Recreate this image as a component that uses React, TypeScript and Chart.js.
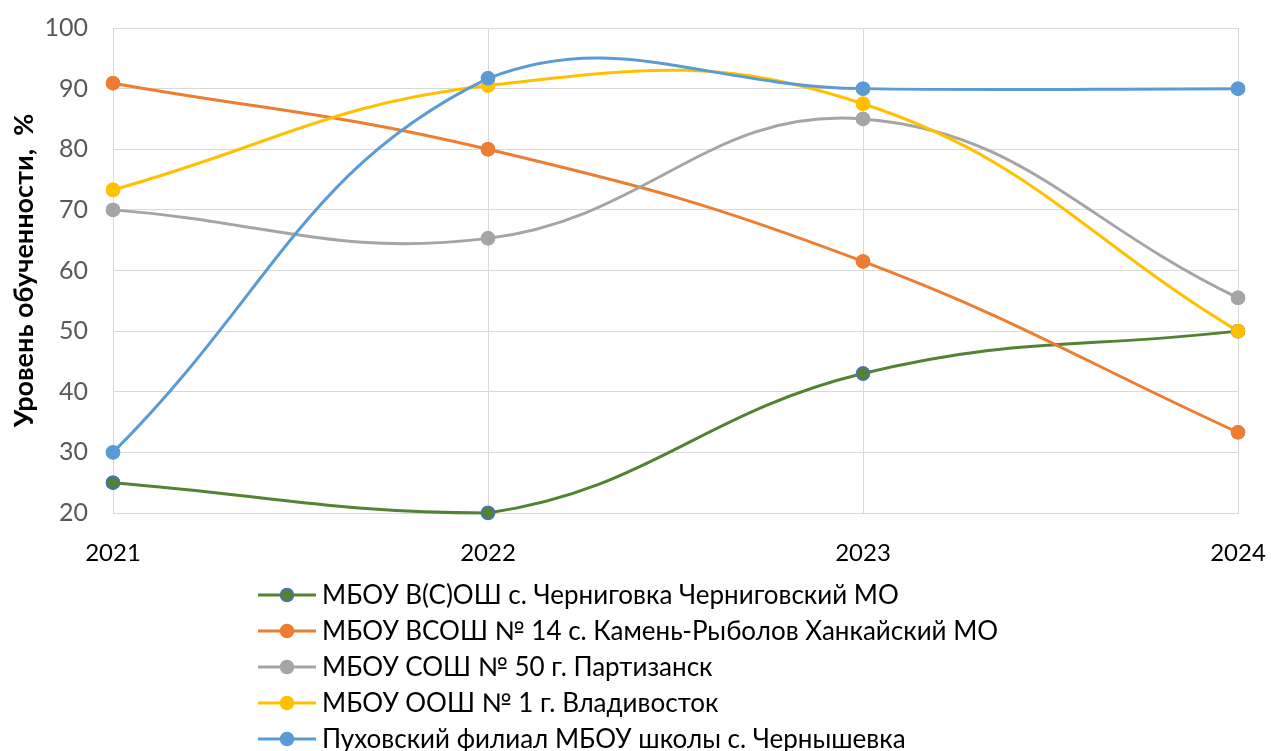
import React, { useEffect, useRef } from "react";
import { Chart, registerables } from "chart.js";

Chart.register(...registerables);

const years = ["2021", "2022", "2023", "2024"];
const seriesNames = [
  "МБОУ В(С)ОШ с. Черниговка Черниговский МО",
  "МБОУ ВСОШ № 14 с. Камень-Рыболов Ханкайский МО",
  "МБОУ СОШ № 50 г. Партизанск",
  "МБОУ ООШ № 1 г. Владивосток",
  "Пуховский филиал МБОУ школы с. Чернышевка",
];
const chernigovka = [25, 20, 43, 50];
const kamenRybolov = [90.9, 80, 61.5, 33.3];
const partizansk = [70, 65.3, 85, 55.5];
const vladivostok = [73.3, 90.5, 87.5, 50];
const pukhovsky = [30, 91.7, 90, 90];
const yTicks = { min: 20, max: 100, step: 10 };
const yTitle = "Уровень обученности,  %";

const lineColors = ["#548235", "#ED7D31", "#A5A5A5", "#FFC000", "#5B9BD5"];
const markerBorders = ["#4472C4", "#ED7D31", "#A5A5A5", "#FFC000", "#5B9BD5"];
const FONT = "Lato, 'Open Sans', sans-serif";

export default function App() {
  const ref = useRef<HTMLCanvasElement | null>(null);
  useEffect(() => {
    document.body.style.margin = "0";
    const canvas = ref.current!;
    const values = [chernigovka, kamenRybolov, partizansk, vladivostok, pukhovsky];

    const pointsOnTop = {
      id: "pointsOnTop",
      afterDatasetsDraw(chart: any) {
        const ctx = chart.ctx;
        const big = { left: -1e5, top: -1e5, right: 1e5, bottom: 1e5 };
        for (let i = 0; i < chart.data.datasets.length; i++) {
          const meta = chart.getDatasetMeta(i);
          meta.data.forEach((el: any) => el.draw(ctx, big));
        }
      },
    };

    const customLegend = {
      id: "customLegend",
      afterDraw(chart: any) {
        const ctx = chart.ctx;
        ctx.save();
        const x0 = 258;
        const x1 = 316;
        const y0 = 595;
        const gap = 36;
        chart.data.datasets.forEach((ds: any, i: number) => {
          const y = y0 + i * gap;
          ctx.strokeStyle = ds.borderColor;
          ctx.lineWidth = 3;
          ctx.beginPath();
          ctx.moveTo(x0, y);
          ctx.lineTo(x1, y);
          ctx.stroke();
          ctx.beginPath();
          ctx.arc((x0 + x1) / 2, y, 6.5, 0, Math.PI * 2);
          ctx.fillStyle = ds.pointBackgroundColor;
          ctx.fill();
          ctx.lineWidth = 1.5;
          ctx.strokeStyle = ds.pointBorderColor;
          ctx.stroke();
          ctx.fillStyle = "#000000";
          ctx.font = `26px ${FONT}`;
          ctx.textBaseline = "middle";
          ctx.textAlign = "left";
          ctx.fillText(ds.label, 322, y + 1);
        });
        ctx.restore();
      },
    };

    const chart = new Chart(canvas, {
      type: "line",
      data: {
        labels: years,
        datasets: values.map((v, i) => ({
          label: seriesNames[i],
          data: v,
          borderColor: lineColors[i],
          backgroundColor: lineColors[i],
          pointBackgroundColor: lineColors[i],
          pointBorderColor: markerBorders[i],
          pointBorderWidth: 1.5,
          pointRadius: 6.5,
          borderWidth: 3,
          tension: 0.42,
          fill: false,
          order: 4 - i,
          clip: { left: 10, right: 10, top: 20, bottom: 2 },
        })),
      },
      plugins: [pointsOnTop, customLegend],
      options: {
        animation: false,
        responsive: false,
        maintainAspectRatio: false,
        layout: { padding: { top: 28, right: 33, left: 0, bottom: 0 } },
        plugins: {
          legend: { display: false },
          tooltip: { enabled: false },
        },
        scales: {
          x: {
            type: "category",
            offset: false,
            grid: { color: "#D9D9D9", lineWidth: 1, drawTicks: false },
            border: { color: "#D9D9D9", width: 1 },
            ticks: {
              color: "#000000",
              font: { family: FONT, size: 24 },
              padding: 26,
              maxRotation: 0,
            },
            afterFit(scale: any) {
              scale.height = 751 - 513;
              scale.paddingLeft = 0;
              scale.paddingRight = 0;
            },
          },
          y: {
            min: yTicks.min,
            max: yTicks.max,
            grid: { color: "#D9D9D9", lineWidth: 1, drawTicks: false },
            border: { color: "#D9D9D9", width: 1 },
            ticks: {
              stepSize: yTicks.step,
              color: "#595959",
              font: { family: FONT, size: 25 },
              padding: 25,
            },
            title: {
              display: true,
              text: yTitle,
              color: "#000000",
              font: { family: FONT, size: 27, weight: "bold" },
              padding: { top: 8, bottom: 0 },
            },
            afterFit(scale: any) {
              scale.width = 113;
              scale.paddingTop = 0;
              scale.paddingBottom = 0;
            },
          },
        },
      },
    });
    return () => chart.destroy();
  }, []);

  return (
    <div style={{ width: 1271, height: 751, background: "#fff" }}>
      <canvas ref={ref} width={1271} height={751} style={{ display: "block" }} />
    </div>
  );
}
